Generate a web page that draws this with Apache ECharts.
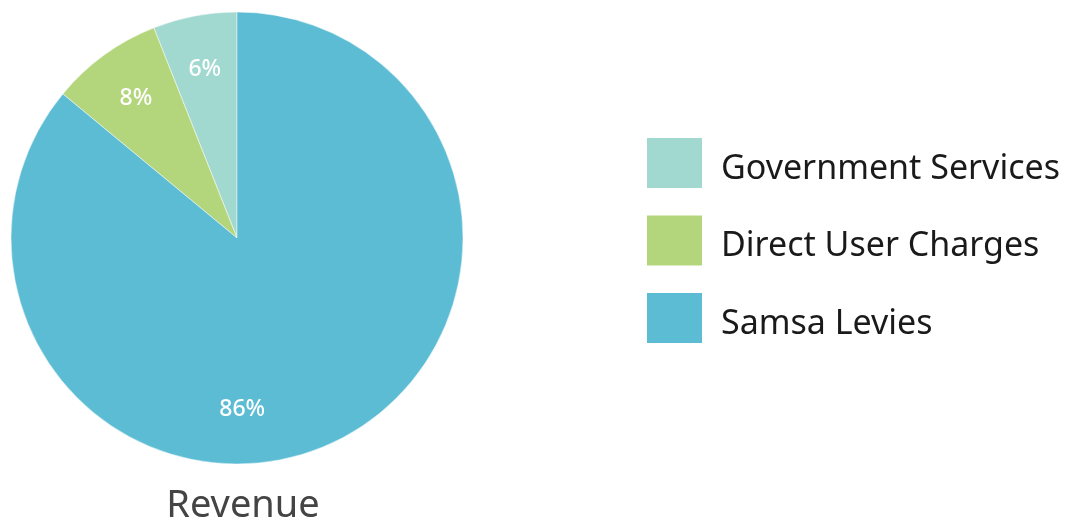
<!DOCTYPE html>
<html>
<head>
<meta charset="utf-8">
<script src="https://cdn.jsdelivr.net/npm/echarts@6/dist/echarts.min.js"></script>
<style>
  html, body { margin: 0; padding: 0; background: #ffffff; }
  #chart { width: 1070px; height: 527px; }
</style>
</head>
<body>
<div id="chart"></div>
<script>
// Revenue breakdown (percent of total)
const categories = ['Government Services', 'Direct User Charges', 'Samsa Levies'];
const shares = [6, 8, 86];
const colors = ['#a1d8cf', '#b3d57b', '#5bbcd4'];

const pieData = categories.map((name, i) => ({
  name: name,
  value: shares[i],
  itemStyle: { color: colors[i] }
}));

// the large slice's label sits near the bottom of the pie rather than at its angular midpoint
const labelOffsets = [[0, 0], [0, 0], [-68, 16]];

const FONT = '"Noto Sans", "Open Sans", sans-serif';

const chart = echarts.init(document.getElementById('chart'), null, { renderer: 'canvas' });
chart.setOption({
  animation: false,
  backgroundColor: '#ffffff',
  title: {
    text: 'Revenue',
    left: 243,
    top: 487,
    padding: 0,
    textAlign: 'center',
    textStyle: { fontFamily: FONT, fontSize: 38, fontWeight: 'normal', color: '#444444' }
  },
  legend: {
    orient: 'vertical',
    left: 645,
    top: 136,
    padding: 0,
    itemWidth: 57,
    itemHeight: 52,
    itemGap: 23.5,
    icon: 'rect',
    data: categories,
    formatter: '{t|{name}}',
    textStyle: {
      rich: {
        t: { fontFamily: FONT, fontSize: 34, color: '#1a1a1a', padding: [12, 0, 0, 13] }
      }
    },
    selectedMode: false
  },
  series: [
    {
      type: 'pie',
      center: [237, 238],
      radius: [0, 226],
      startAngle: 90,
      clockwise: false,
      label: { show: false },
      labelLine: { show: false },
      itemStyle: { borderColor: '#ffffff', borderWidth: 0.5 },
      emphasis: { disabled: true },
      data: pieData
    },
    {
      // label ring: places the percentage text further out than the slice midpoint
      type: 'pie',
      center: [237, 238],
      radius: [112, 226],
      startAngle: 90,
      clockwise: false,
      silent: true,
      legendHoverLink: false,
      itemStyle: { color: 'rgba(0,0,0,0)' },
      label: {
        show: true,
        position: 'inside',
        formatter: '{c}%',
        color: '#ffffff',
        fontFamily: FONT,
        fontSize: 23,
        fontWeight: 500
      },
      labelLine: { show: false },
      emphasis: { disabled: true },
      data: categories.map((name, i) => ({
        name: name + ' ',
        value: shares[i],
        label: { offset: labelOffsets[i] }
      }))
    }
  ]
});
</script>
</body>
</html>
